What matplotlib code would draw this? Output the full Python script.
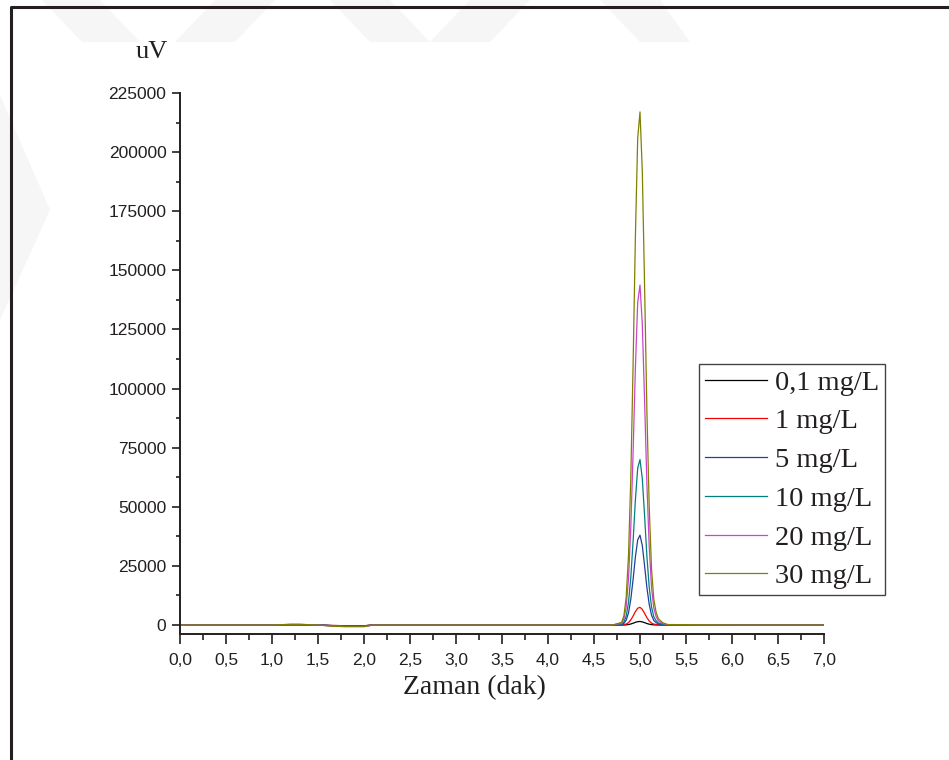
import matplotlib
matplotlib.use("Agg")
import matplotlib.pyplot as plt
from matplotlib.ticker import MultipleLocator, FuncFormatter
from matplotlib.lines import Line2D
from matplotlib.patches import Polygon

# -----------------------------
# DATI
# -----------------------------
zaman = [0.0, 1.0, 1.2, 1.3, 1.5, 1.65, 1.8, 2.0, 2.1, 3.0, 4.0, 4.7,
         4.800, 4.825, 4.850, 4.875, 4.900, 4.925, 4.950, 4.975, 5.000,
         5.025, 5.050, 5.075, 5.100, 5.125, 5.150, 5.175, 5.200, 5.250,
         5.300, 6.0, 7.0]

conc_01 = [0, 0, 100, 100, 0, -200, -300, -300, 0, 0, 0, 0,
           10, 30, 80, 200, 430, 760, 1130, 1420, 1500,
           1320, 990, 620, 350, 170, 80, 40, 20, 10,
           0, 0, 0]
conc_1 = [0, 0, 100, 100, 0, -200, -300, -300, 0, 0, 0, 0,
          40, 140, 410, 1010, 2150, 3800, 5660, 7100, 7480,
          6620, 4930, 3110, 1730, 830, 380, 190, 90, 30,
          10, 0, 0]
conc_5 = [0, 0, 150, 150, 0, -250, -400, -400, 0, 0, 0, 0,
          190, 690, 2060, 5140, 10900, 19300, 28800, 36000, 38000,
          33600, 25000, 15800, 8800, 4200, 1900, 1000, 500, 150,
          40, 0, 0]
conc_10 = [0, 0, 200, 200, 0, -300, -500, -500, 0, 0, 0, 0,
           350, 1260, 3800, 9500, 20100, 35500, 53000, 66400, 70000,
           61900, 46100, 29100, 16100, 7700, 3500, 1800, 800, 300,
           100, 0, 0]
conc_20 = [0, 0, 250, 250, 0, -400, -600, -600, 0, 0, 0, 0,
           720, 2600, 7800, 19500, 41200, 73000, 108900, 136400, 143800,
           127200, 94700, 59800, 33200, 15900, 7200, 3600, 1700, 600,
           100, 0, 0]
conc_30 = [0, 0, 300, 300, 0, -500, -700, -700, 0, 0, 0, 0,
           1100, 3900, 11800, 29400, 62300, 110200, 164400, 205900, 217000,
           192000, 143000, 90300, 50100, 23900, 10900, 5400, 2600, 900,
           200, 0, 0]

etichette = ["0,1 mg/L", "1 mg/L", "5 mg/L", "10 mg/L", "20 mg/L", "30 mg/L"]
serie = [conc_01, conc_1, conc_5, conc_10, conc_20, conc_30]
colori = ["#000000", "#ff0000", "#2040a0", "#008080", "#cc44cc", "#808000"]

# -----------------------------
# STILE
# -----------------------------
INK = "#231f20"
W, H = 949, 760
plt.rcParams["font.family"] = ["Liberation Sans", "DejaVu Sans"]

fig = plt.figure(figsize=(W / 100, H / 100), dpi=100)


def px(x, y):
    # pixel (dall'alto) -> coordinate figura
    return (x / W, 1 - y / H)


# filigrana chiara sullo sfondo
filigrana = [
    [(42, 0), (100, 0), (140, 42), (82, 42)],
    [(215, 0), (275, 0), (235, 42), (175, 42)],
    [(330, 0), (390, 0), (430, 42), (370, 42)],
    [(470, 0), (530, 0), (490, 42), (430, 42)],
    [(600, 0), (660, 0), (690, 42), (640, 42)],
    [(0, 95), (50, 210), (0, 320)],
]
for poly in filigrana:
    fig.patches.append(Polygon([px(*p) for p in poly], closed=True,
                               transform=fig.transFigure, facecolor="#f6f6f6",
                               edgecolor="none", zorder=0))

# cornice (solo sinistra e sopra)
fig.lines.append(Line2D([11 / W, 11 / W, 1.0], [0.0, 1 - 7 / H, 1 - 7 / H],
                        transform=fig.transFigure, color=INK, linewidth=2.2))

ax = fig.add_axes([180 / W, 1 - 634 / H, (824 - 180) / W, (634 - 93) / H])
ax.patch.set_alpha(0)

for y, lab, col in zip(serie, etichette, colori):
    ax.plot(zaman, y, color=col, linewidth=0.9, label=lab)

ax.set_xlim(0, 7)
ax.set_ylim(-3800, 225000)

ax.xaxis.set_major_locator(MultipleLocator(0.5))
ax.xaxis.set_minor_locator(MultipleLocator(0.25))
ax.yaxis.set_major_locator(MultipleLocator(25000))
ax.yaxis.set_minor_locator(MultipleLocator(12500))
ax.xaxis.set_major_formatter(FuncFormatter(lambda v, p: f"{v:.1f}".replace(".", ",")))
ax.yaxis.set_major_formatter(FuncFormatter(lambda v, p: f"{int(round(v))}"))

for s in ["top", "right"]:
    ax.spines[s].set_visible(False)
for s in ["left", "bottom"]:
    ax.spines[s].set_linewidth(1.4)
    ax.spines[s].set_color(INK)

ax.tick_params(axis="both", which="both", direction="out", color=INK,
               width=1.2, labelcolor=INK, labelsize=12.5)
ax.tick_params(axis="y", which="major", length=5.8, pad=4)
ax.tick_params(axis="x", which="major", length=7, pad=7)
ax.tick_params(axis="y", which="minor", length=3)
ax.tick_params(axis="x", which="minor", length=4)

fig.text(474 / W, 1 - 688 / H, "Zaman (dak)", ha="center", va="center",
         fontsize=20, family="Liberation Serif", color=INK)
fig.text(152 / W, 1 - 52 / H, "uV", ha="center", va="center",
         fontsize=19, family="Liberation Serif", color=INK)

leg = ax.legend(loc="upper left", bbox_to_anchor=px(699, 364),
                bbox_transform=fig.transFigure, frameon=True, fancybox=False,
                framealpha=1, edgecolor="#444444", borderaxespad=0,
                borderpad=0.2, labelspacing=0.45, handlelength=2.2,
                handletextpad=0.28, prop={"family": "Liberation Serif", "size": 20.5})
leg.get_frame().set_linewidth(1.0)
for t in leg.get_texts():
    t.set_color(INK)

fig.savefig("out.png", dpi=100)
